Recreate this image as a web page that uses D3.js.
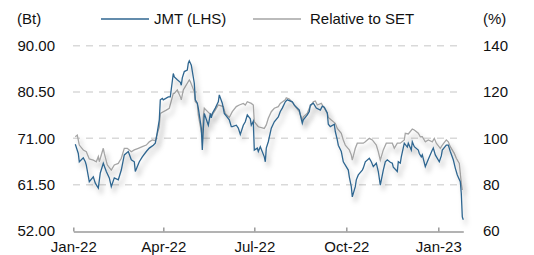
<!doctype html>
<html>
<head>
<meta charset="utf-8">
<style>
	body { margin: 0; background: #fff; }
	text { font-family: "Liberation Sans", Arial, sans-serif; font-size: 15px; fill: #111; }
</style>
<script src="https://d3js.org/d3.v7.min.js"></script>
</head>
<body>
<div id="chart"></div>
<script>

var jmtDates = ["2022-01-03","2022-01-06","2022-01-07","2022-01-11","2022-01-13","2022-01-14","2022-01-17","2022-01-21","2022-01-23","2022-01-26","2022-01-28","2022-01-31",
	"2022-02-03","2022-02-06","2022-02-08","2022-02-11","2022-02-15","2022-02-18","2022-02-21","2022-02-25","2022-02-28",
	"2022-03-03","2022-03-04","2022-03-08","2022-03-11","2022-03-15","2022-03-18","2022-03-22","2022-03-24","2022-03-25","2022-03-28","2022-03-29","2022-03-31",
	"2022-04-01","2022-04-06","2022-04-08","2022-04-11","2022-04-12","2022-04-15","2022-04-18","2022-04-19","2022-04-20","2022-04-22","2022-04-25","2022-04-26","2022-04-27","2022-04-29",
	"2022-05-02","2022-05-03","2022-05-05","2022-05-06","2022-05-09","2022-05-10","2022-05-11","2022-05-12","2022-05-16","2022-05-17","2022-05-18","2022-05-19","2022-05-20","2022-05-23","2022-05-26","2022-05-27","2022-05-30",
	"2022-06-01","2022-06-06","2022-06-08","2022-06-09","2022-06-13","2022-06-15","2022-06-17","2022-06-20","2022-06-22","2022-06-24","2022-06-27","2022-06-28","2022-06-30",
	"2022-07-01","2022-07-04","2022-07-05","2022-07-07","2022-07-11","2022-07-12","2022-07-13","2022-07-15","2022-07-18","2022-07-21","2022-07-25","2022-07-27","2022-07-29",
	"2022-08-01","2022-08-03","2022-08-08","2022-08-10","2022-08-15","2022-08-16","2022-08-18","2022-08-19","2022-08-23","2022-08-25","2022-08-26","2022-08-29",
	"2022-09-01","2022-09-05","2022-09-07","2022-09-09","2022-09-12","2022-09-13","2022-09-15","2022-09-19","2022-09-20","2022-09-22","2022-09-23","2022-09-26","2022-09-28",
	"2022-10-03","2022-10-04","2022-10-06","2022-10-07","2022-10-10","2022-10-11","2022-10-13","2022-10-17","2022-10-18","2022-10-20","2022-10-24","2022-10-26","2022-10-28","2022-10-31",
	"2022-11-02","2022-11-04","2022-11-07","2022-11-09","2022-11-11","2022-11-14","2022-11-16","2022-11-17","2022-11-21","2022-11-22","2022-11-24","2022-11-25","2022-11-28",
	"2022-12-01","2022-12-02","2022-12-05","2022-12-06","2022-12-08","2022-12-12","2022-12-13","2022-12-15","2022-12-16","2022-12-19","2022-12-21","2022-12-23","2022-12-26","2022-12-27","2022-12-29",
	"2023-01-02","2023-01-04","2023-01-05","2023-01-09","2023-01-11","2023-01-13","2023-01-16","2023-01-18","2023-01-20","2023-01-23","2023-01-24","2023-01-25","2023-01-26"];

var jmtValues = [69.8,67.9,66.2,67.0,66.2,65.5,62.1,63.1,61.8,60.8,63.9,65.9,
	64.2,62.9,61.1,62.9,62.5,64.5,67.6,68.3,66.6,
	66.2,64.2,66.2,67.2,68.3,69.0,69.6,70.0,71.0,74.8,78.9,79.2,
	78.9,79.5,79.5,84.3,83.6,83.0,82.5,81.9,83.4,84.7,85.0,86.4,86.9,86.0,
	82.3,78.9,78.2,77.2,73.1,68.6,72.7,76.1,73.7,74.8,76.1,75.2,76.1,77.2,78.5,79.9,78.2,
	76.1,74.8,73.4,73.4,73.7,73.1,71.8,73.7,74.4,75.8,75.0,73.7,74.5,
	68.6,69.0,68.3,69.3,67.2,66.2,69.0,70.3,73.1,74.4,75.4,76.5,77.2,
	78.5,78.9,78.5,77.8,76.8,75.8,74.1,74.8,75.8,76.5,77.8,78.2,
	77.2,76.8,77.6,77.4,76.2,73.9,73.4,73.9,72.4,70.7,69.6,68.3,66.2,
	64.5,63.1,61.1,59.0,61.1,62.5,63.5,64.5,64.9,66.2,66.9,66.2,65.2,65.9,
	64.2,61.4,64.5,66.2,66.6,66.1,65.9,65.1,64.2,66.2,65.9,67.2,70.0,
	69.2,70.0,68.6,70.3,69.3,68.6,67.9,67.2,67.6,65.2,66.2,67.2,68.6,69.0,67.6,
	66.2,67.4,68.6,69.6,69.6,68.3,66.6,64.9,63.5,62.1,59.7,54.9,54.3];

var relDates = ["2022-01-03","2022-01-05","2022-01-07","2022-01-11","2022-01-14","2022-01-17","2022-01-21","2022-01-24","2022-01-26","2022-01-27","2022-01-31",
	"2022-02-01","2022-02-04","2022-02-08","2022-02-11","2022-02-15","2022-02-18","2022-02-21","2022-02-24","2022-02-28",
	"2022-03-03","2022-03-07","2022-03-11","2022-03-15","2022-03-18","2022-03-21","2022-03-24","2022-03-28","2022-03-29",
	"2022-04-01","2022-04-04","2022-04-07","2022-04-11","2022-04-12","2022-04-15","2022-04-18","2022-04-19","2022-04-21","2022-04-25","2022-04-27","2022-04-28",
	"2022-05-02","2022-05-03","2022-05-05","2022-05-06","2022-05-09","2022-05-10","2022-05-11","2022-05-12","2022-05-17","2022-05-20","2022-05-23","2022-05-26","2022-05-31",
	"2022-06-02","2022-06-06","2022-06-09","2022-06-13","2022-06-16","2022-06-20","2022-06-22","2022-06-24","2022-06-28","2022-06-30",
	"2022-07-01","2022-07-05","2022-07-11","2022-07-13","2022-07-15","2022-07-18","2022-07-21","2022-07-25","2022-07-27",
	"2022-08-01","2022-08-02","2022-08-05","2022-08-09","2022-08-11","2022-08-15","2022-08-18","2022-08-19","2022-08-23","2022-08-25","2022-08-29","2022-08-31",
	"2022-09-02","2022-09-06","2022-09-09","2022-09-12","2022-09-13","2022-09-16","2022-09-20","2022-09-22","2022-09-26","2022-09-28","2022-09-30",
	"2022-10-04","2022-10-06","2022-10-07","2022-10-10","2022-10-12","2022-10-14","2022-10-18","2022-10-20","2022-10-24","2022-10-27","2022-10-31",
	"2022-11-02","2022-11-04","2022-11-07","2022-11-10","2022-11-14","2022-11-16","2022-11-18","2022-11-21","2022-11-24","2022-11-28","2022-11-29",
	"2022-12-02","2022-12-06","2022-12-08","2022-12-12","2022-12-14","2022-12-16","2022-12-19","2022-12-22","2022-12-26","2022-12-28","2022-12-30",
	"2023-01-03","2023-01-05","2023-01-09","2023-01-11","2023-01-13","2023-01-17","2023-01-19","2023-01-22","2023-01-24","2023-01-25"];

var relValues = [100.7,101.4,97.1,95.0,94.2,91.1,90.6,89.9,92.1,89.9,95.7,
	93.5,88.5,86.3,88.5,89.2,91.4,95.7,95.7,94.2,
	95.0,95.7,96.4,97.1,98.5,99.3,99.0,105.0,110.8,
	111.5,112.2,113.0,119.4,119.4,120.9,118.0,116.6,120.9,123.8,125.2,124.5,
	120.1,115.8,115.1,110.1,102.9,100.7,109.3,113.0,110.8,110.1,112.2,114.4,113.7,
	110.8,109.0,111.5,113.7,114.4,115.1,114.4,115.8,115.1,114.4,
	107.2,105.0,104.3,105.8,108.7,111.5,113.0,113.7,115.1,
	116.6,117.5,117.0,115.1,113.7,111.5,107.9,109.3,110.8,113.0,115.8,116.1,
	114.4,115.1,113.0,110.8,109.0,107.9,106.5,104.3,102.2,99.3,97.1,
	95.0,92.8,90.6,95.7,97.9,97.9,97.9,98.5,100.0,99.3,97.1,
	94.2,90.6,95.0,97.9,97.9,97.9,95.7,97.9,97.9,99.3,102.2,
	101.9,104.0,103.6,102.2,100.7,100.7,98.5,99.3,98.5,100.0,97.9,
	95.7,97.1,99.3,98.5,96.4,93.5,91.4,89.2,80.6,77.7];

var leftTicks = [52, 61.5, 71, 80.5, 90];
var rightTicks = [60, 80, 100, 120, 140];
var xTicks = ["2022-01-01","2022-04-01","2022-07-01","2022-10-01","2023-01-01"];
var seriesNames = ["JMT (LHS)", "Relative to SET"];

var parse = d3.timeParse("%Y-%m-%d");
var blue = "#2f6690", grey = "#a5a5a5";

var svg = d3.select("#chart").append("svg")
	.attr("width", 534)
	.attr("height", 255);

var defs = svg.append("defs");
defs.append("filter")
	.attr("id", "shadow")
	.attr("x", "-10%").attr("y", "-10%")
	.attr("width", "130%").attr("height", "140%")
  .append("feDropShadow")
	.attr("dx", 3).attr("dy", 5)
	.attr("stdDeviation", 2.5)
	.attr("flood-color", "#000")
	.attr("flood-opacity", 0.28);

var x = d3.scaleTime()
	.domain([parse("2022-01-01"), parse("2023-01-26")])
	.range([73.3, 463.3]);

var yL = d3.scaleLinear().domain([52, 90]).range([231, 45.7]);
var yR = d3.scaleLinear().domain([60, 140]).range([231, 45.7]);

// dashed grid
svg.append("g")
	.selectAll("line")
	.data(leftTicks.slice(1))
	.enter().append("line")
	.attr("x1", 73).attr("x2", 461)
	.attr("y1", function(d){ return yL(d); })
	.attr("y2", function(d){ return yL(d); })
	.attr("stroke", "#d9d9d9")
	.attr("stroke-width", 1.5)
	.attr("stroke-dasharray", "7,6");

// left axis labels
svg.append("g")
	.attr("transform", "translate(55,0)")
	.call(d3.axisLeft(yL).tickValues(leftTicks).tickFormat(d3.format(".2f")).tickSize(0).tickPadding(0))
	.call(function(g){ g.select(".domain").remove(); })
	.selectAll("text")
	.attr("font-size", 15).attr("font-family", null).attr("fill", "#111");

// right axis labels
svg.append("g")
	.attr("transform", "translate(483,0)")
	.call(d3.axisRight(yR).tickValues(rightTicks).tickSize(0).tickPadding(0))
	.call(function(g){ g.select(".domain").remove(); })
	.selectAll("text")
	.attr("font-size", 15).attr("font-family", null).attr("fill", "#111");

// bottom axis, ticks pointing up
var xAxis = svg.append("g")
	.attr("transform", "translate(0,231.5)")
	.call(d3.axisBottom(x).tickValues(xTicks.map(parse)).tickFormat(d3.timeFormat("%b-%y")).tickSizeInner(-4).tickSizeOuter(0).tickPadding(10));
xAxis.select(".domain").attr("stroke", "#9a9a9a").attr("stroke-width", 1.5);
xAxis.selectAll(".tick line").attr("stroke", "#9a9a9a").attr("stroke-width", 1.5);
xAxis.selectAll("text").attr("font-size", 15).attr("font-family", null).attr("fill", "#111");

// lines
var relData = relDates.map(function(d, i){ return { date: parse(d), v: relValues[i] }; });
var jmtData = jmtDates.map(function(d, i){ return { date: parse(d), v: jmtValues[i] }; });

svg.append("path")
	.datum(relData)
	.attr("fill", "none")
	.attr("stroke", grey)
	.attr("stroke-width", 1.3)
	.attr("filter", "url(#shadow)")
	.attr("d", d3.line().x(function(d){ return x(d.date); }).y(function(d){ return yR(d.v); }));

svg.append("path")
	.datum(jmtData)
	.attr("fill", "none")
	.attr("stroke", blue)
	.attr("stroke-width", 1.3)
	.attr("filter", "url(#shadow)")
	.attr("d", d3.line().x(function(d){ return x(d.date); }).y(function(d){ return yL(d.v); }));

// unit labels
svg.append("text").attr("x", 17).attr("y", 24).text("(Bt)");
svg.append("text").attr("x", 483).attr("y", 24).text("(%)");

// legend
var legend = svg.append("g");
var lx = [101, 253], tx = [154, 310];
[blue, grey].forEach(function(c, i){
	legend.append("line")
		.attr("x1", lx[i]).attr("x2", lx[i] + 48)
		.attr("y1", 19).attr("y2", 19)
		.attr("stroke", c).attr("stroke-width", 1.3);
	legend.append("text")
		.attr("x", tx[i]).attr("y", 24)
		.text(seriesNames[i]);
});

</script>
</body>
</html>
